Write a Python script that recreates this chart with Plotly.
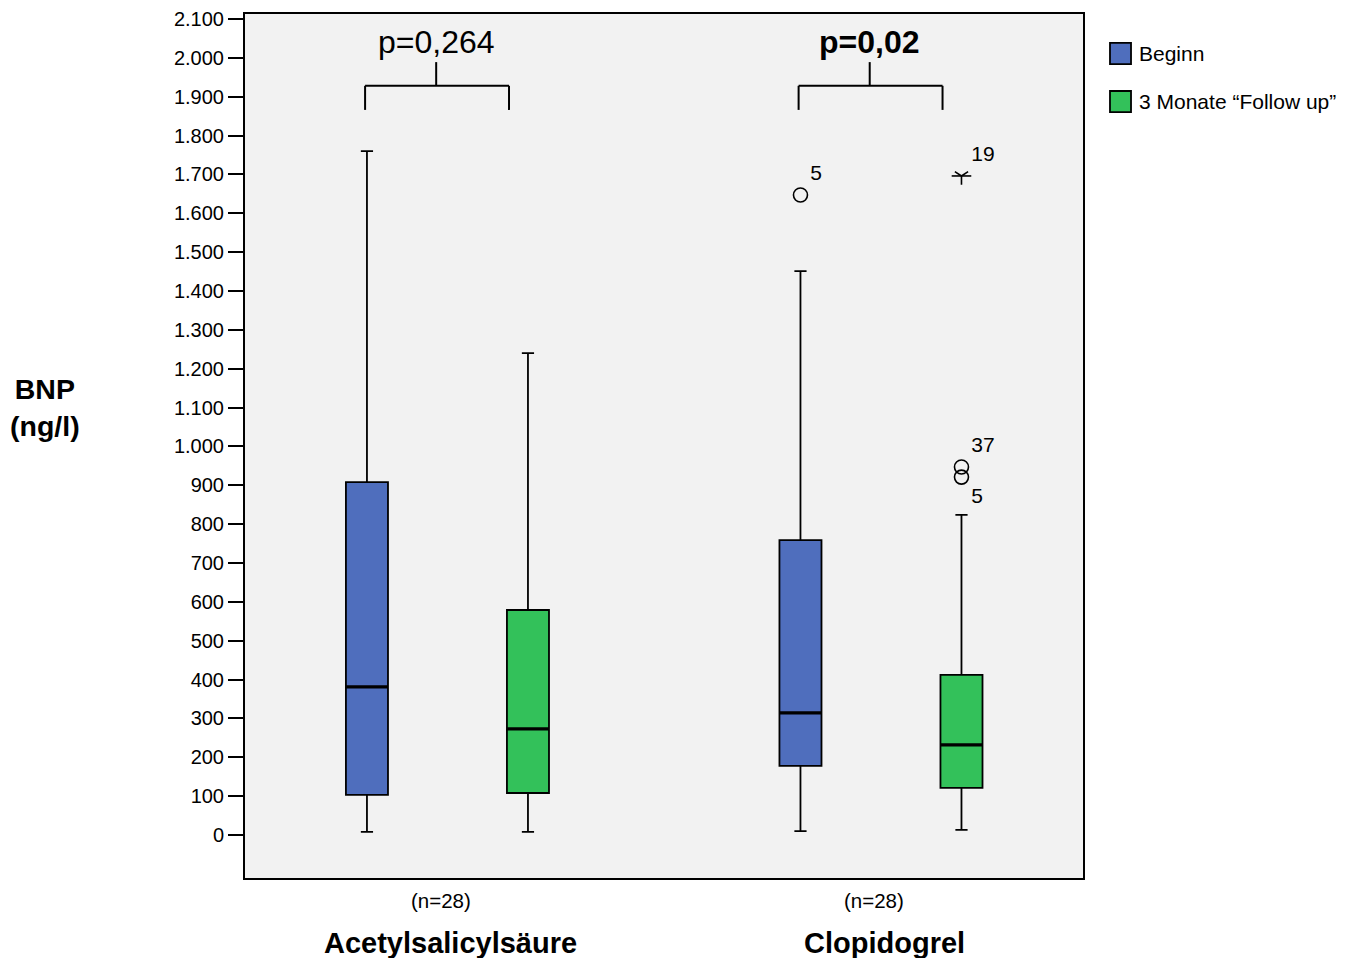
import plotly.graph_objects as go

# ---- data ----
groups = ["Acetylsalicylsäure", "Clopidogrel"]
n_labels = ["(n=28)", "(n=28)"]
series = ["Beginn", "3 Monate \u201cFollow up\u201d"]
colors = ["#4f6ebd", "#33c15a"]

# [group][series]
lower = [[8, 8], [10, 13]]
q1 = [[103, 108], [178, 121]]
median = [[381, 273], [314, 232]]
q3 = [[908, 579], [759, 412]]
upper = [[1760, 1240], [1451, 824]]

# outliers
outlier_group = [1, 1, 1, 1]
outlier_series = [0, 1, 1, 1]
outlier_value = [1647, 1696, 947, 921]
outlier_label = ["5", "19", "37", "5"]
outlier_kind = ["circle", "star", "circle", "circle"]
outlier_textpos = ["top right", "top right", "top right", "bottom right"]

p_values = ["p=0,264", "<b>p=0,02</b>"]

yticks = list(range(0, 2101, 100))
yticktext = [f"{v:,}".replace(",", ".") for v in yticks]

# ---- layout helpers ----
gpos = [1, 2]
offset = 0.1857
bw = 0.097
FONT = "Liberation Sans, Arial, sans-serif"

fig = go.Figure()

for s in range(2):
    xs = [gpos[g] + (2 * s - 1) * offset for g in range(2)]
    fig.add_trace(go.Box(
        x=xs,
        q1=[q1[g][s] for g in range(2)],
        median=[median[g][s] for g in range(2)],
        q3=[q3[g][s] for g in range(2)],
        lowerfence=[lower[g][s] for g in range(2)],
        upperfence=[upper[g][s] for g in range(2)],
        width=bw,
        whiskerwidth=0.29,
        fillcolor=colors[s],
        line=dict(color="black", width=1.8),
        name=series[s],
        showlegend=False,
        boxpoints=False,
        hoverinfo="skip",
    ))
    # thick median lines
    mx, my = [], []
    for g in range(2):
        c = gpos[g] + (2 * s - 1) * offset
        mx += [c - bw / 2, c + bw / 2, None]
        my += [median[g][s], median[g][s], None]
    fig.add_trace(go.Scatter(x=mx, y=my, mode="lines",
                             line=dict(color="black", width=3.2),
                             showlegend=False, hoverinfo="skip"))

# outliers
for i in range(len(outlier_value)):
    g, s = outlier_group[i], outlier_series[i]
    xo = gpos[g] + (2 * s - 1) * offset
    if outlier_kind[i] == "circle":
        fig.add_trace(go.Scatter(
            x=[xo], y=[outlier_value[i]], mode="markers+text",
            marker=dict(symbol="circle-open", size=14, color="black", line=dict(width=1.6)),
            text=[outlier_label[i]], textposition=outlier_textpos[i],
            textfont=dict(size=21, color="black"),
            showlegend=False, hoverinfo="skip"))
    else:
        fig.add_trace(go.Scatter(
            x=[xo], y=[outlier_value[i]], mode="markers",
            marker=dict(symbol="y-down-open", size=11, color="black", line=dict(width=1.6, color="black")),
            showlegend=False, hoverinfo="skip"))
        fig.add_trace(go.Scatter(
            x=[xo], y=[outlier_value[i]], mode="markers+text",
            marker=dict(symbol="line-ew-open", size=14, color="black", line=dict(width=1.6, color="black")),
            text=[outlier_label[i]], textposition=outlier_textpos[i],
            textfont=dict(size=21, color="black"),
            showlegend=False, hoverinfo="skip"))

shapes = []
annotations = []
for g in range(2):
    left = gpos[g] - 0.19
    right = gpos[g] + 0.142
    mid = gpos[g] - 0.026
    for xx0, yy0, xx1, yy1 in [(left, 1866, left, 1928), (left, 1928, right, 1928),
                               (right, 1928, right, 1866), (mid, 1928, mid, 1989)]:
        shapes.append(dict(type="line", xref="x", yref="y", x0=xx0, y0=yy0, x1=xx1, y1=yy1,
                           line=dict(color="black", width=2)))
    annotations.append(dict(x=mid, y=2041, xref="x", yref="y", text=p_values[g],
                            showarrow=False, yanchor="middle", font=dict(size=32, color="black")))
    annotations.append(dict(x=gpos[g] - 0.015, y=-0.0255, xref="x", yref="paper", text=n_labels[g],
                            showarrow=False, yanchor="middle", font=dict(size=20.5, color="black")))
    annotations.append(dict(x=gpos[g] + 0.008, y=-0.0752, xref="x", yref="paper",
                            text="<b>" + groups[g] + "</b>",
                            showarrow=False, yanchor="middle", font=dict(size=29, color="black")))

# y axis title
annotations.append(dict(x=-0.2387, y=0.544, xref="paper", yref="paper", text="<b>BNP<br>(ng/l)</b>",
                        showarrow=False, xanchor="center", yanchor="middle",
                        font=dict(size=28.5, color="black")))

# legend (drawn in paper coordinates)
leg_y = [0.9543, 0.8987]
for s in range(2):
    shapes.append(dict(type="rect", xref="paper", yref="paper",
                       x0=1.0322, x1=1.0573, y0=leg_y[s] - 0.0122, y1=leg_y[s] + 0.0122,
                       fillcolor=colors[s], line=dict(color="black", width=1.8)))
    annotations.append(dict(x=1.064, y=leg_y[s], xref="paper", yref="paper", text=series[s],
                            showarrow=False, xanchor="left", yanchor="middle",
                            font=dict(size=21, color="black")))

fig.update_layout(
    width=1346, height=950,
    margin=dict(l=237, r=271, t=6, b=80, autoexpand=False),
    paper_bgcolor="white",
    plot_bgcolor="#f2f2f2",
    font=dict(family=FONT, color="black"),
    boxmode="overlay",
    showlegend=False,
    shapes=shapes,
    annotations=annotations,
    xaxis=dict(range=[0.533, 2.466], showgrid=False, zeroline=False, showticklabels=False,
               automargin=False,
               showline=True, mirror=True, linecolor="black", linewidth=2, ticks=""),
    yaxis=dict(range=[-110.7, 2112.8], showgrid=False, zeroline=False, automargin=False,
               ticklabeloverflow="allow",
               tickvals=yticks, ticktext=yticktext, ticks="outside", ticklen=15,
               tickwidth=2, tickcolor="black", tickfont=dict(size=20, color="black"),
               showline=True, mirror=True, linecolor="black", linewidth=2),
)

fig.write_html("out.html")
